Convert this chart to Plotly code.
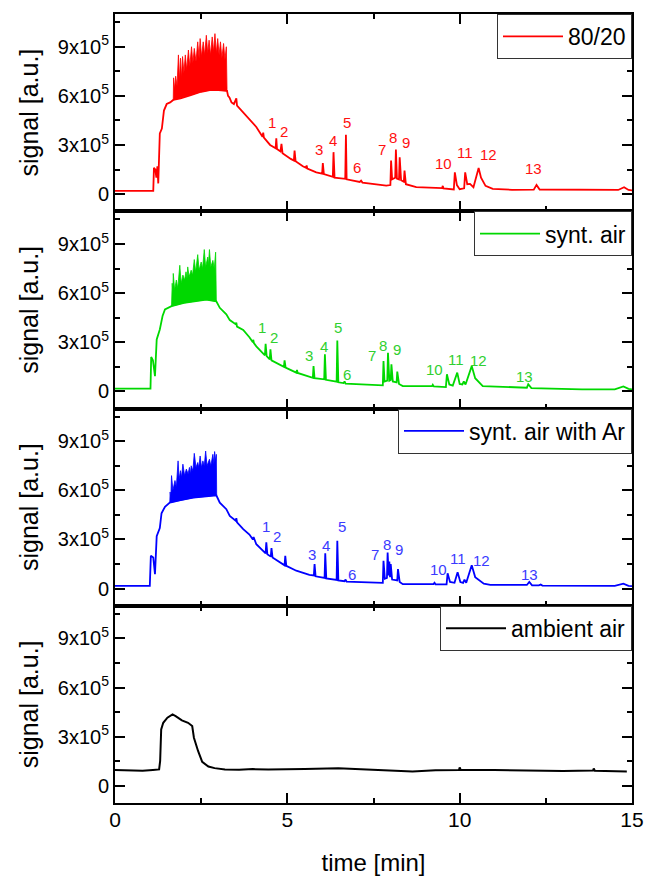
import plotly.graph_objects as go

# ---------------- data (time in min, signal in units of 1e5 a.u.) ----------------
red_t = [0, 1.11, 1.13, 1.17, 1.20, 1.23, 1.255, 1.28, 1.30, 1.36, 1.42, 1.50, 1.60, 1.69, 1.9, 2.2, 2.5,
         2.75, 3.0, 3.25, 3.28, 3.32, 3.38, 3.45, 3.52, 3.54, 3.72, 3.90, 4.10, 4.28, 4.30, 4.32, 4.50,
         4.66, 4.68, 4.70, 4.80, 4.83, 4.86, 5.10, 5.19, 5.21, 5.24, 5.45, 5.55, 5.56, 5.58, 5.84, 6.01,
         6.03, 6.06, 6.32, 6.34, 6.37, 6.68, 6.70, 6.72, 7.10, 7.14, 7.18, 7.87, 7.99, 8.01, 8.04, 8.13,
         8.15, 8.18, 8.24, 8.26, 8.30, 8.38, 8.40, 8.44, 8.74, 9.49, 9.51, 9.53, 9.83, 9.86, 9.92, 10.0,
         10.13, 10.16, 10.22, 10.30, 10.40, 10.55, 10.62, 10.75, 10.96, 11.52, 12.15, 12.23, 12.32, 13.5,
         14.6, 14.77, 14.9, 15.0]
red_v = [0.2, 0.2, 1.6, 1.5, 1.0, 1.7, 0.65, 2.0, 3.7, 4.0, 5.1, 5.5, 5.6, 5.75, 5.85, 6.05, 6.25,
         6.35, 6.35, 6.3, 6.0, 5.9, 5.6, 5.5, 5.85, 5.4, 5.0, 4.55, 4.1, 3.5, 3.75, 3.45, 3.0,
         2.8, 3.4, 2.75, 2.6, 3.07, 2.5, 2.15, 2.05, 2.66, 2.0, 1.7, 1.6, 1.75, 1.55, 1.33, 1.25,
         1.89, 1.22, 1.05, 2.56, 1.0, 0.93, 3.62, 0.9, 0.74, 0.82, 0.7, 0.52, 0.55, 2.05, 0.9, 1.0,
         2.72, 0.95, 0.9, 2.25, 0.85, 0.75, 1.44, 0.6, 0.42, 0.36, 0.5, 0.35, 0.28, 1.33, 0.55, 0.3,
         0.35, 1.33, 0.6, 0.62, 0.42, 1.59, 1.0, 0.5, 0.32, 0.26, 0.27, 0.56, 0.28, 0.25,
         0.25, 0.42, 0.25, 0.22]
red_band_up_t = [1.69, 1.70, 1.73, 1.76, 1.80, 1.84, 1.87, 1.90, 1.93, 1.96, 2.00, 2.04, 2.08, 2.13, 2.17,
                 2.22, 2.26, 2.30, 2.35, 2.40, 2.44, 2.47, 2.51, 2.56, 2.60, 2.65, 2.69, 2.73, 2.77, 2.82,
                 2.86, 2.90, 2.94, 2.98, 3.02, 3.06, 3.10, 3.15, 3.19, 3.23, 3.25]
red_band_up_v = [5.8, 7.1, 6.4, 7.2, 6.6, 8.5, 7.0, 8.3, 7.1, 8.4, 7.4, 8.5, 7.6, 8.8, 7.8,
                 9.0, 8.0, 8.9, 8.1, 9.3, 8.3, 9.5, 8.4, 9.3, 8.5, 9.7, 8.6, 9.4, 8.5, 9.6,
                 8.7, 9.8, 8.6, 9.5, 8.5, 9.3, 8.3, 9.2, 8.2, 9.0, 6.4]
red_band_lo_t = [1.69, 1.9, 2.2, 2.5, 2.75, 3.0, 3.25]
red_band_lo_v = [5.75, 5.85, 6.05, 6.25, 6.35, 6.35, 6.3]

green_t = [0, 1.03, 1.05, 1.10, 1.16, 1.21, 1.30, 1.38, 1.45, 1.64, 2.0, 2.3, 2.65, 2.94, 3.04, 3.23, 3.33,
           3.50, 3.52, 3.54, 3.72, 3.90, 4.00, 4.01, 4.03, 4.10, 4.35, 4.37, 4.40, 4.49, 4.51, 4.54, 4.90,
           4.92, 4.95, 5.26, 5.28, 5.30, 5.64, 5.74, 5.76, 5.79, 6.07, 6.09, 6.12, 6.43, 6.45, 6.48, 6.63,
           6.66, 6.69, 7.38, 7.77, 7.79, 7.82, 7.90, 7.92, 7.96, 8.00, 8.02, 8.06, 8.17, 8.19, 8.24, 8.35,
           9.20, 9.22, 9.25, 9.60, 9.63, 9.70, 9.80, 9.93, 10.0, 10.08, 10.12, 10.17, 10.35, 10.45, 10.67,
           11.55, 11.95, 11.99, 12.08, 13.55, 14.5, 14.75, 14.9, 15.0]
green_v = [0.16, 0.16, 2.1, 1.9, 0.93, 3.17, 3.78, 4.6, 5.0, 5.2, 5.4, 5.5, 5.6, 5.5, 5.1, 4.7, 4.35,
           4.1, 4.2, 3.95, 3.75, 3.3, 3.0, 3.15, 2.95, 2.75, 2.2, 2.9, 2.15, 1.95, 2.56, 1.89, 1.5,
           1.89, 1.45, 1.14, 1.3, 1.12, 0.87, 0.82, 1.54, 0.8, 0.73, 2.26, 0.7, 0.59, 3.1, 0.55, 0.5,
           0.6, 0.47, 0.38, 0.36, 1.85, 0.6, 0.65, 2.36, 0.65, 0.7, 1.65, 0.6, 0.55, 1.2, 0.45, 0.32,
           0.32, 0.4, 0.3, 0.26, 1.04, 0.42, 0.35, 1.14, 0.45, 0.42, 0.6, 0.42, 1.54, 0.8, 0.32,
           0.22, 0.22, 0.43, 0.2, 0.12, 0.12, 0.3, 0.15, 0.12]
green_band_up_t = [1.64, 1.66, 1.68, 1.69, 1.73, 1.78, 1.82, 1.88, 1.92, 1.97, 2.02, 2.06, 2.09, 2.11, 2.15,
                   2.21, 2.25, 2.30, 2.34, 2.40, 2.44, 2.50, 2.54, 2.59, 2.63, 2.69, 2.71, 2.74, 2.78, 2.84,
                   2.88, 2.92, 2.94]
green_band_up_v = [5.2, 6.6, 6.0, 7.2, 6.2, 6.8, 6.3, 7.7, 6.6, 7.1, 6.8, 7.3, 6.9, 7.6, 7.0,
                   7.4, 7.1, 8.05, 7.3, 8.35, 7.4, 7.9, 7.5, 8.66, 7.6, 8.2, 7.7, 8.66, 7.6, 8.0,
                   7.5, 8.5, 5.5]
green_band_lo_t = [1.64, 2.0, 2.3, 2.65, 2.94]
green_band_lo_v = [5.2, 5.4, 5.5, 5.6, 5.5]

blue_t = [0, 1.01, 1.04, 1.11, 1.16, 1.21, 1.30, 1.35, 1.45, 1.59, 1.9, 2.27, 2.94, 3.04, 3.23, 3.33,
          3.50, 3.52, 3.54, 3.72, 3.90, 4.00, 4.02, 4.05, 4.10, 4.37, 4.39, 4.42, 4.52, 4.54, 4.57, 4.92,
          4.94, 4.97, 5.26, 5.64, 5.77, 5.79, 5.82, 6.08, 6.10, 6.13, 6.43, 6.45, 6.48, 6.66, 6.69, 6.72,
          7.20, 7.58, 7.77, 7.79, 7.83, 7.89, 7.91, 7.94, 7.96, 7.98, 8.00, 8.04, 8.19, 8.21, 8.26, 8.35,
          9.24, 9.27, 9.30, 9.62, 9.65, 9.72, 9.85, 9.94, 10.02, 10.10, 10.14, 10.19, 10.35, 10.45, 10.70,
          10.89, 11.95, 12.02, 12.10, 12.30, 12.35, 12.40, 14.5, 14.75, 14.9, 15.0]
blue_v = [0.17, 0.17, 2.0, 1.9, 0.88, 3.2, 3.7, 4.6, 5.0, 5.25, 5.4, 5.55, 5.7, 5.25, 4.85, 4.44,
          4.15, 4.3, 4.05, 3.63, 3.3, 3.0, 3.15, 2.95, 2.71, 2.15, 2.82, 2.1, 1.95, 2.47, 1.9, 1.42,
          2.0, 1.39, 1.09, 0.84, 0.8, 1.49, 0.75, 0.65, 2.15, 0.62, 0.53, 2.92, 0.5, 0.45, 0.55, 0.42,
          0.38, 0.34, 0.35, 1.7, 0.6, 0.65, 2.2, 0.8, 1.65, 0.7, 1.5, 0.55, 0.5, 1.19, 0.4, 0.27,
          0.27, 0.35, 0.26, 0.26, 0.93, 0.4, 0.35, 0.99, 0.4, 0.35, 0.55, 0.35, 1.43, 0.7, 0.3,
          0.23, 0.22, 0.41, 0.2, 0.2, 0.25, 0.18, 0.17, 0.3, 0.17, 0.15]
blue_band_up_t = [1.59, 1.60, 1.62, 1.64, 1.68, 1.74, 1.78, 1.83, 1.86, 1.90, 1.93, 1.97, 2.02, 2.07, 2.12,
                  2.16, 2.19, 2.21, 2.26, 2.30, 2.35, 2.40, 2.43, 2.47, 2.51, 2.55, 2.59, 2.63, 2.67, 2.74,
                  2.78, 2.84, 2.87, 2.89, 2.92, 2.94, 2.95]
blue_band_up_v = [5.25, 5.9, 5.5, 6.9, 6.0, 6.6, 6.2, 7.8, 6.7, 7.2, 6.8, 7.6, 6.9, 7.3, 7.0,
                  7.4, 7.0, 7.5, 7.2, 8.26, 7.4, 7.7, 7.4, 8.1, 7.4, 7.8, 7.5, 8.4, 7.5, 7.9,
                  7.5, 8.2, 7.6, 8.37, 7.8, 8.2, 5.7]
blue_band_lo_t = [1.59, 1.9, 2.27, 2.94]
blue_band_lo_v = [5.25, 5.4, 5.55, 5.7]

black_t = [0, 0.5, 0.8, 1.1, 1.28, 1.31, 1.34, 1.40, 1.52, 1.67, 1.76, 1.94, 2.12, 2.24, 2.29, 2.41, 2.53,
           2.71, 2.89, 3.19, 3.6, 4.0, 4.45, 5.5, 6.48, 7.3, 8.15, 8.63, 9.3, 9.98, 10.0, 10.03, 11.0,
           11.98, 13.0, 13.87, 13.89, 13.92, 14.5, 14.85]
black_v = [0.97, 0.95, 0.92, 0.97, 1.0, 1.52, 3.45, 3.85, 4.16, 4.36, 4.26, 4.0, 3.85, 3.65, 2.94, 2.13, 1.46,
           1.18, 1.08, 1.0, 0.98, 1.02, 1.0, 1.03, 1.08, 1.0, 0.92, 0.88, 0.95, 0.97, 1.12, 0.97, 0.97,
           0.92, 0.9, 0.93, 1.06, 0.92, 0.9, 0.88]

peak_labels = ["1", "2", "3", "4", "5", "6", "7", "8", "9", "10", "11", "12", "13"]
red_lab_t = [4.56, 4.90, 5.92, 6.32, 6.73, 7.02, 7.74, 8.06, 8.45, 9.54, 10.16, 10.84, 12.14]
red_lab_v = [4.4, 3.85, 2.7, 3.28, 4.4, 1.6, 2.72, 3.44, 3.17, 1.89, 2.52, 2.42, 1.54]
green_lab_t = [4.27, 4.61, 5.63, 6.05, 6.47, 6.73, 7.46, 7.77, 8.18, 9.27, 9.88, 10.55, 11.87]
green_lab_v = [3.88, 3.27, 2.2, 2.76, 3.88, 1.04, 2.21, 2.82, 2.56, 1.34, 1.95, 1.89, 0.93]
blue_lab_t = [4.37, 4.71, 5.72, 6.13, 6.59, 6.88, 7.53, 7.90, 8.25, 9.39, 9.94, 10.64, 12.02]
blue_lab_v = [3.77, 3.16, 2.1, 2.61, 3.77, 0.88, 2.06, 2.71, 2.41, 1.19, 1.86, 1.74, 0.84]

series_names = ["80/20", "synt. air", "synt. air with Ar", "ambient air"]
series_colors = ["#ff0000", "#00d800", "#0000ff", "#000000"]
label_colors = ["#ff1010", "#30d030", "#3a3aff", "#000000"]

y_tickvals = [0, 3e5, 6e5, 9e5]
y_ticktext = ["0", "3x10<sup>5</sup>", "6x10<sup>5</sup>", "9x10<sup>5</sup>"]
x_tickvals = [0, 5, 10, 15]
SCALE = 1e5

# ---------------- figure ----------------
FONT = "Liberation Sans, Arial, sans-serif"
fig = go.Figure()

mains = [(red_t, red_v), (green_t, green_v), (blue_t, blue_v), (black_t, black_v)]
bands = [(red_band_up_t, red_band_up_v, red_band_lo_t, red_band_lo_v),
         (green_band_up_t, green_band_up_v, green_band_lo_t, green_band_lo_v),
         (blue_band_up_t, blue_band_up_v, blue_band_lo_t, blue_band_lo_v),
         None]
labs = [(red_lab_t, red_lab_v), (green_lab_t, green_lab_v), (blue_lab_t, blue_lab_v), None]

legend_names = ["legend", "legend2", "legend3", "legend4"]
domains = [[0.75, 1.0], [0.5, 0.75], [0.25, 0.5], [0.0, 0.25]]

for i in range(4):
    xa = "x" if i == 0 else f"x{i+1}"
    ya = "y" if i == 0 else f"y{i+1}"
    col = series_colors[i]
    if bands[i] is not None:
        ut, uv, lt, lv = bands[i]
        bx = list(ut) + list(reversed(lt))
        by = [v * SCALE for v in uv] + [v * SCALE for v in reversed(lv)]
        fig.add_trace(go.Scatter(x=bx, y=by, mode="lines", fill="toself", fillcolor=col,
                                 line=dict(color=col, width=0.8), showlegend=False,
                                 hoverinfo="skip", xaxis=xa, yaxis=ya))
    t, v = mains[i]
    fig.add_trace(go.Scatter(x=t, y=[q * SCALE for q in v], mode="lines", name=series_names[i],
                             line=dict(color=col, width=1.8 if i < 3 else 2.0),
                             xaxis=xa, yaxis=ya, legend=legend_names[i]))
    if labs[i] is not None:
        lt_, lv_ = labs[i]
        for txt, tx, ty in zip(peak_labels, lt_, lv_):
            fig.add_annotation(x=tx, y=ty * SCALE, xref=xa, yref=ya, text=txt, showarrow=False,
                               font=dict(family=FONT, size=15, color=label_colors[i]))

layout = dict(
    width=646, height=876,
    margin=dict(l=115, r=14, t=14, b=73, autoexpand=False),
    paper_bgcolor="white", plot_bgcolor="white",
    font=dict(family=FONT, color="black"),
)
for i in range(4):
    xk = "xaxis" if i == 0 else f"xaxis{i+1}"
    yk = "yaxis" if i == 0 else f"yaxis{i+1}"
    ya = "y" if i == 0 else f"y{i+1}"
    xa = "x" if i == 0 else f"x{i+1}"
    layout[xk] = dict(
        domain=[0, 1], anchor=ya, range=[0, 15], tickvals=x_tickvals, automargin=False,
        showticklabels=(i == 3), ticks="inside", ticklen=10, tickwidth=1.5, tickcolor="black",
        minor=dict(ticks="inside", ticklen=5, tickwidth=1.5, dtick=2.5, tick0=0, tickcolor="black"),
        showline=True, linecolor="black", linewidth=2, mirror="ticks", showgrid=False, zeroline=False,
        tickfont=dict(size=21), ticklabelstandoff=-3,
    )
    if i == 3:
        layout[xk]["title"] = dict(text="time [min]", font=dict(size=24), standoff=24)
    else:
        layout[xk]["matches"] = "x4"
    layout[yk] = dict(
        domain=domains[i], anchor=xa, range=[-1.05e5, 1.1e6], automargin=False,
        tickvals=y_tickvals, ticktext=y_ticktext,
        ticks="inside", ticklen=10, tickwidth=1.5, tickcolor="black",
        minor=dict(ticks="inside", ticklen=5, tickwidth=1.5, dtick=1.5e5, tick0=0, tickcolor="black"),
        showline=True, linecolor="black", linewidth=2, mirror="ticks", showgrid=False, zeroline=False,
        tickfont=dict(size=20), ticklabelstandoff=0,
        title=dict(text="signal [a.u.]", font=dict(size=25), standoff=12),
    )
    layout[legend_names[i]] = dict(
        x=1, xanchor="right", y=domains[i][1], yanchor="top",
        bgcolor="white", bordercolor="#333333", borderwidth=1,
        font=dict(size=23, family=FONT), itemwidth=60,
    )

fig.update_layout(**layout)
fig.write_html("out.html")
